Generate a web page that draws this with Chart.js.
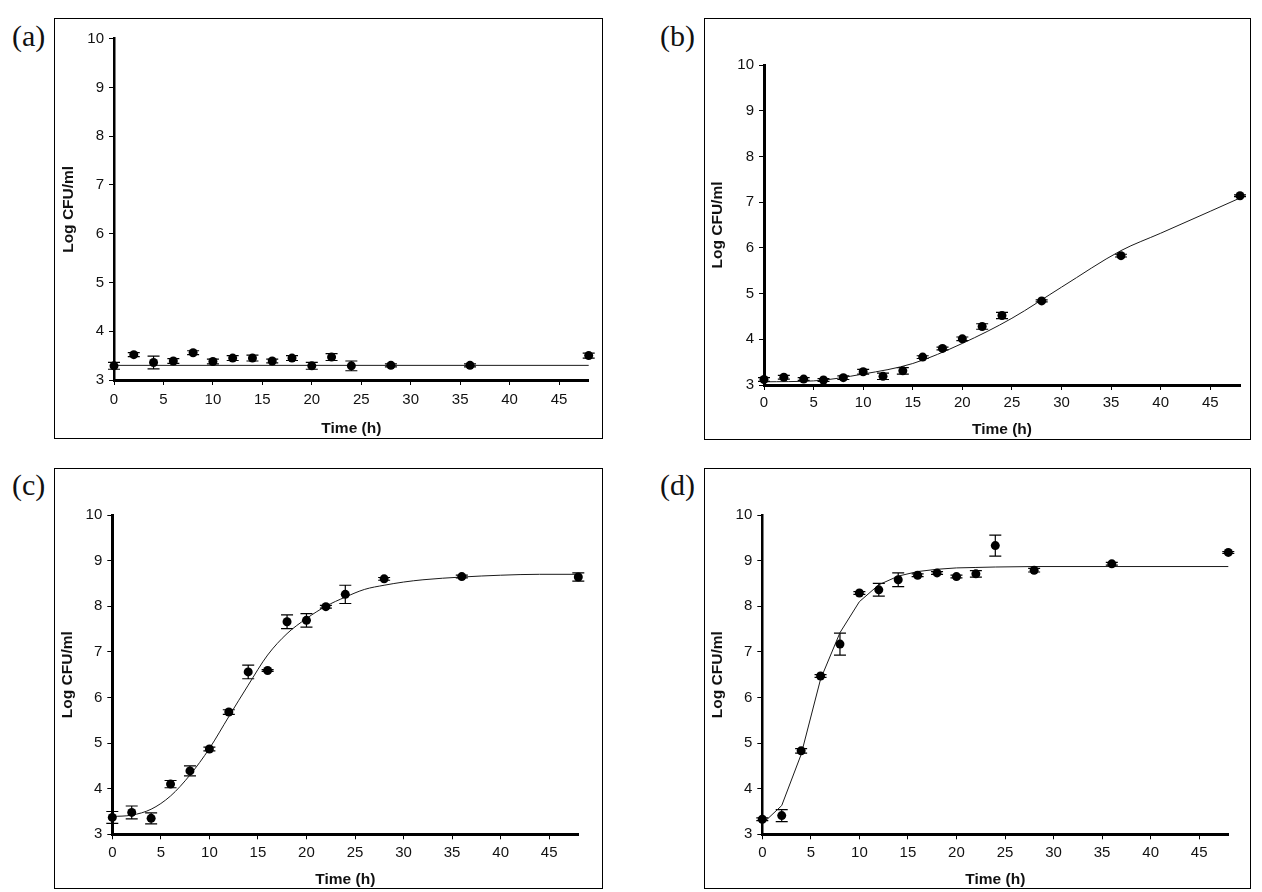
<!DOCTYPE html>
<html>
<head>
<meta charset="utf-8">
<title>Log CFU/ml vs Time (h)</title>
<script src="https://cdn.jsdelivr.net/npm/chart.js@4.4.1/dist/chart.umd.min.js"></script>
<style>
  html, body { margin: 0; padding: 0; background: #fff; }
  body { width: 1262px; height: 892px; position: relative; overflow: hidden; }
  .frame { position: absolute; border: 1px solid #000; box-sizing: border-box; }
  canvas { position: absolute; }
  .tag { position: absolute; font-family: 'Liberation Serif', 'Times New Roman', serif; font-size: 30px; line-height: 30px; color: #111; }
</style>
</head>
<body>
<div class="tag" style="left:12px;top:21px">(a)</div>
<div class="tag" style="left:660px;top:21px">(b)</div>
<div class="tag" style="left:12px;top:470px">(c)</div>
<div class="tag" style="left:660px;top:470px">(d)</div>
<script>
// sampling times (h)
const hours = [0, 2, 4, 6, 8, 10, 12, 14, 16, 18, 20, 22, 24, 28, 36, 48];

// (a)
const logA = [3.29, 3.52, 3.36, 3.39, 3.56, 3.38, 3.45, 3.45, 3.39, 3.45, 3.29, 3.47, 3.29, 3.30, 3.30, 3.50];
const sdA = [0.07, 0.04, 0.13, 0.05, 0.04, 0.05, 0.05, 0.06, 0.04, 0.05, 0.07, 0.07, 0.10, 0.03, 0.03, 0.05];
const fitHoursA = [0, 48];
const fitA = [3.30, 3.30];

// (b)
const logB = [3.12, 3.17, 3.13, 3.11, 3.16, 3.29, 3.19, 3.31, 3.61, 3.80, 4.01, 4.28, 4.52, 4.84, 5.83, 7.14];
const sdB = [0.04, 0.04, 0.03, 0.03, 0.04, 0.05, 0.07, 0.07, 0.03, 0.03, 0.04, 0.06, 0.07, 0.02, 0.03, 0.02];
const fitHoursB = [0, 5, 10, 15, 20, 25, 30, 36, 40, 45, 48];
const fitB = [3.07, 3.09, 3.24, 3.47, 3.91, 4.46, 5.14, 5.94, 6.32, 6.80, 7.09];

// (c)
const logC = [3.37, 3.48, 3.35, 4.10, 4.39, 4.87, 5.68, 6.56, 6.59, 7.66, 7.69, 7.99, 8.26, 8.60, 8.65, 8.64];
const sdC = [0.13, 0.14, 0.12, 0.08, 0.11, 0.04, 0.05, 0.15, 0.02, 0.15, 0.15, 0.03, 0.20, 0.03, 0.03, 0.09];
const fitHoursC = [0, 2, 4, 6, 8, 10, 12, 14, 16, 18, 20, 22, 24, 26, 28, 30, 32, 36, 40, 44, 48];
const fitC = [3.39, 3.42, 3.55, 3.84, 4.30, 4.88, 5.58, 6.27, 6.93, 7.40, 7.73, 8.00, 8.20, 8.37, 8.46, 8.53, 8.58, 8.64, 8.68, 8.70, 8.70];

// (d)
const logD = [3.33, 3.41, 4.83, 6.47, 7.17, 8.29, 8.36, 8.58, 8.68, 8.73, 8.65, 8.71, 9.33, 8.79, 8.93, 9.18];
const sdD = [0.03, 0.13, 0.05, 0.03, 0.24, 0.03, 0.14, 0.15, 0.03, 0.03, 0.03, 0.07, 0.23, 0.04, 0.03, 0.02];
const fitHoursD = [0, 2, 4, 6, 8, 10, 12, 14, 16, 18, 20, 22, 24, 28, 36, 48];
const fitD = [3.23, 3.63, 4.75, 6.40, 7.42, 8.10, 8.47, 8.66, 8.76, 8.81, 8.84, 8.85, 8.86, 8.87, 8.87, 8.87];

Chart.defaults.font.family = "'Liberation Sans', Arial, sans-serif";
Chart.defaults.color = '#111';
const tickFont = { family: "'Liberation Sans Narrow', 'Arial Narrow', 'Liberation Sans', sans-serif", size: 15 };

// vertical error bars with caps, drawn under the markers
const errorBars = {
  id: 'errorBars',
  beforeDatasetsDraw(chart) {
    const ctx = chart.ctx;
    const yScale = chart.scales.y;
    chart.data.datasets.forEach((ds, i) => {
      if (!ds.errors) return;
      const meta = chart.getDatasetMeta(i);
      ctx.save();
      ctx.strokeStyle = '#000';
      ctx.lineWidth = 1.2;
      meta.data.forEach((pt, j) => {
        const v = ds.data[j].y, e = ds.errors[j];
        const top = yScale.getPixelForValue(v + e);
        const bot = yScale.getPixelForValue(v - e);
        ctx.beginPath();
        ctx.moveTo(pt.x, top); ctx.lineTo(pt.x, bot);
        ctx.moveTo(pt.x - 6, top); ctx.lineTo(pt.x + 6, top);
        ctx.moveTo(pt.x - 6, bot); ctx.lineTo(pt.x + 6, bot);
        ctx.stroke();
      });
      ctx.restore();
    });
  }
};

function panel(p, obs, err, fitX, fitY, curve) {
  const w = p.r - p.l, h = p.b - p.t;
  const frame = document.createElement('div');
  frame.className = 'frame';
  Object.assign(frame.style, { left: p.l + 'px', top: p.t + 'px', width: w + 'px', height: h + 'px' });
  document.body.appendChild(frame);

  const canvas = document.createElement('canvas');
  canvas.width = w;
  canvas.height = h;
  canvas.style.left = p.l + 'px';
  canvas.style.top = p.t + 'px';
  document.body.appendChild(canvas);

  const areaLeft = p.x0 - p.l, areaRight = p.x48 - p.l;
  const areaTop = p.y10 - p.t, areaBottom = p.y3 - p.t;

  new Chart(canvas, {
    type: 'scatter',
    data: {
      datasets: [
        {
          data: hours.map((t, i) => ({ x: t, y: obs[i] })),
          errors: err,
          pointRadius: 4.5,
          pointHoverRadius: 4.5,
          backgroundColor: '#000',
          borderColor: '#000',
          borderWidth: 0,
          clip: false
        },
        {
          data: fitX.map((t, i) => ({ x: t, y: fitY[i] })),
          showLine: true,
          borderColor: '#1a1a1a',
          borderWidth: 1,
          pointRadius: 0,
          cubicInterpolationMode: curve ? 'monotone' : 'default',
          tension: 0,
          clip: false
        }
      ]
    },
    options: {
      responsive: false,
      animation: false,
      events: [],
      layout: { padding: { top: areaTop, left: 0, right: w - areaRight, bottom: 0 } },
      plugins: { legend: { display: false }, tooltip: { enabled: false } },
      scales: {
        x: {
          type: 'linear',
          min: 0,
          max: 48,
          afterFit(s) { s.height = h - areaBottom; },
          ticks: { stepSize: 5, includeBounds: false, autoSkip: false, maxRotation: 0, padding: p.xPad, font: tickFont, color: '#111' },
          grid: { drawOnChartArea: false, drawTicks: true, tickLength: 5, color: '#000', lineWidth: 1 },
          border: { display: true, color: '#000', width: 3 },
          title: { display: true, text: 'Time (h)', color: '#111', font: { size: 15.5, weight: 'bold' }, padding: { top: 0, bottom: p.xTitlePad } }
        },
        y: {
          min: 3,
          max: 10,
          afterFit(s) { s.width = areaLeft; },
          ticks: { stepSize: 1, padding: 5, font: tickFont, color: '#111' },
          grid: { drawOnChartArea: false, drawTicks: true, tickLength: 5, color: '#000', lineWidth: 1 },
          border: { display: true, color: '#000', width: p.yAxisW },
          title: { display: true, text: 'Log CFU/ml', color: '#111', font: { size: 15.5, weight: 'bold' }, padding: { top: p.yTitlePad, bottom: 0 } }
        }
      }
    },
    plugins: [errorBars]
  });
}

panel({ l: 54, t: 18, r: 603, b: 439, x0: 114, x48: 588.7, y10: 38.7, y3: 380, xPad: 6, xTitlePad: 1, yTitlePad: 5, yAxisW: 2.5 },
  logA, sdA, fitHoursA, fitA, false);
panel({ l: 704, t: 18, r: 1251, b: 440, x0: 764, x48: 1240, y10: 65, y3: 385, xPad: 4, xTitlePad: 1, yTitlePad: 4, yAxisW: 3 },
  logB, sdB, fitHoursB, fitB, true);
panel({ l: 54, t: 468, r: 603, b: 889, x0: 112.3, x48: 578.3, y10: 515, y3: 834.3, xPad: 5, xTitlePad: 0, yTitlePad: 4, yAxisW: 3 },
  logC, sdC, fitHoursC, fitC, true);
panel({ l: 704, t: 468, r: 1251, b: 889, x0: 762.3, x48: 1228.3, y10: 515, y3: 834.3, xPad: 5, xTitlePad: 0, yTitlePad: 4, yAxisW: 2.5 },
  logD, sdD, fitHoursD, fitD, false);
</script>
</body>
</html>
